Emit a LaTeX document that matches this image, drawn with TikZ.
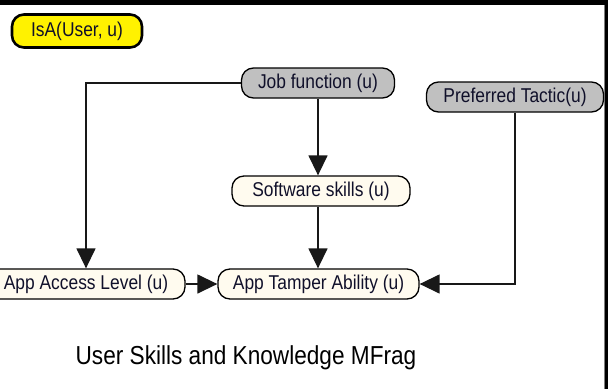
\documentclass[tikz,border=0pt]{standalone}
\usepackage{fontspec}
\setmainfont[FakeStretch=0.87]{Liberation Sans}
\usetikzlibrary{arrows.meta}
\definecolor{cream}{HTML}{FFFBEF}
\definecolor{nodegray}{HTML}{C0C0C0}
\definecolor{wire}{HTML}{181818}
\definecolor{ink}{HTML}{10102A}
\begin{document}
\begin{tikzpicture}[x=1pt,y=-1pt,
  pill/.style={draw=black, line width=1.3pt, rounded corners=12pt,
    minimum height=30pt, inner sep=0pt, text=ink,
    font=\fontsize{20}{22}\selectfont},
  resnode/.style={pill, fill=cream},
  inputnode/.style={pill, fill=nodegray},
  ctxnode/.style={pill, fill=yellow, line width=2.6pt, minimum height=33pt},
  link/.style={draw=wire, line width=1.4pt, -{Triangle[length=20pt,width=19pt]}}
]
\useasboundingbox (0,0) rectangle (608,389);
\fill[white] (0,0) rectangle (608,389);
% window frame edges
\fill[black] (0,0) rectangle (608,5);
\fill[black] (605,0) rectangle (608,389);
\draw[gray, line width=1pt] (604,5) -- (604,389);

% nodes
\node[ctxnode, minimum width=130pt] (isa) at (77,31) {IsA(User, u)};
\node[inputnode, minimum width=153pt] (job) at (318,83) {Job function (u)};
\node[inputnode, minimum width=177pt] (pref) at (515,97) {Preferred Tactic(u)};
\node[resnode, minimum width=178pt] (soft) at (321,191) {Software skills (u)};
\node[resnode, minimum width=198pt] (access) at (86,284) {App Access Level (u)};
\node[resnode, minimum width=201pt] (tamper) at (318.5,284) {App Tamper Ability (u)};

% connectors
\draw[link] (job.west) -| (access.north);
\draw[link] (job.south) -- (job.south |- soft.north);
\draw[link] (job.south |- soft.south) -- (job.south |- tamper.north);
\draw[link] (access.east) -- (tamper.west);
\draw[link] (pref.south) |- (tamper.east);

% caption
\node[font=\fontsize{26}{28}\selectfont, text=black] (caption) at (246,358) {User Skills and Knowledge MFrag};
\end{tikzpicture}
\end{document}
